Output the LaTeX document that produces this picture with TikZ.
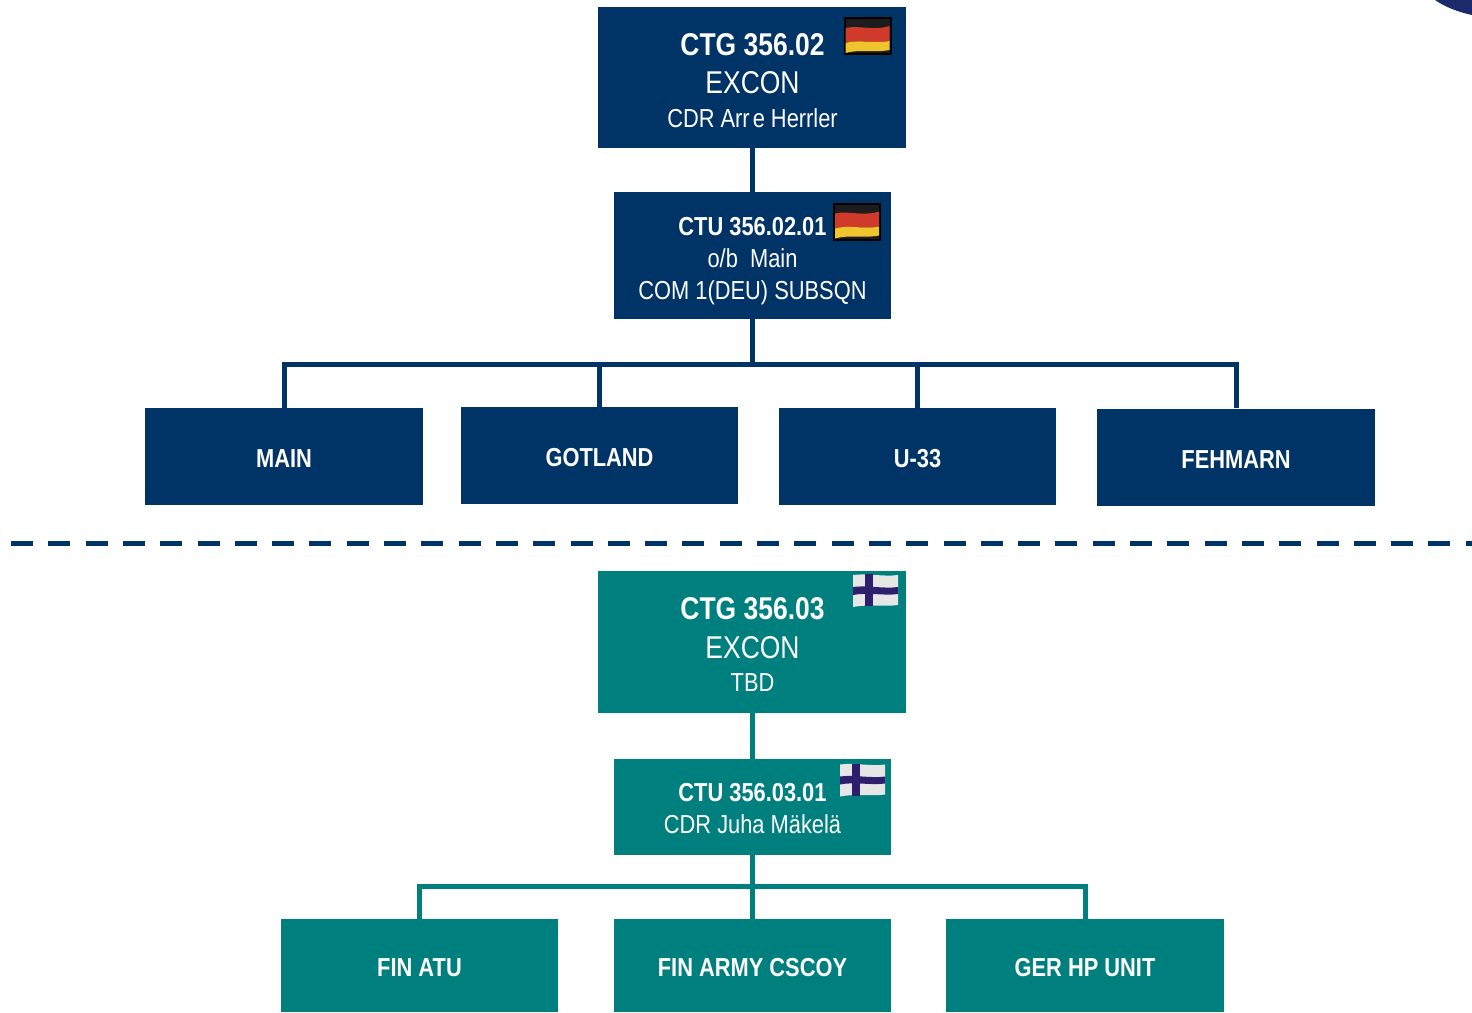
\documentclass[tikz,border=0pt]{standalone}
\usepackage{fontspec}
\setmainfont[FakeStretch=0.84]{Liberation Sans}
\usetikzlibrary{positioning,calc}
\definecolor{navybox}{HTML}{003366}
\definecolor{tealbox}{HTML}{007F7F}
\definecolor{cornerblue}{HTML}{1B2A6B}
\definecolor{flagdark}{HTML}{1C1C1C}
\definecolor{flagred}{HTML}{D03A2A}
\definecolor{flaggold}{HTML}{F0C42C}
\definecolor{flagcross}{HTML}{2E1F6E}
\definecolor{flagwhite}{HTML}{E6E6E6}
\newcommand{\sizeA}{\fontsize{31.5}{32}\selectfont}
\newcommand{\sizeB}{\fontsize{31.5}{32}\selectfont\bfseries}
\newcommand{\sizeC}{\fontsize{26}{26}\selectfont}
\newcommand{\sizeD}{\fontsize{26}{26}\selectfont\bfseries}
\tikzset{%
  every unit/.style={
    draw=none,
    text=white,
    align=center,
    inner sep=0pt,
    minimum width=277.5pt
  },
  unit line/.style={
    text=white,
    inner sep=0pt,
    anchor=base
  },
  unit leaf/.style={
    font=\sizeD,
    text height=22pt,
    text depth=0pt
  },
  unit navy/.style={fill=navybox},
  unit teal/.style={fill=tealbox},
  link navy/.style={draw=navybox,line width=5pt},
  link teal/.style={draw=tealbox,line width=5pt},
  deflag/.pic={
    \fill[black] (0,0) rectangle (48,38);
    \fill[flagdark] (2,2) rectangle (46,36);
    \fill[flagred] (2,11) .. controls (15,8) and (30,14) .. (46,9) -- (46,24) .. controls (30,27) and (15,22) .. (2,26) -- cycle;
    \fill[flaggold] (2,26) .. controls (15,22) and (30,27) .. (46,24) -- (46,33) .. controls (30,36) and (15,32) .. (2,36) -- cycle;
  },
  fiflag/.pic={
    \fill[flagwhite] (0,1) .. controls (15,-1) and (30,3) .. (45,1) -- (45,31) .. controls (30,33) and (15,30) .. (0,33) -- cycle;
    \fill[flagcross] (12,0) rectangle (20,32);
    \fill[flagcross] (0,13) .. controls (15,11) and (30,15) .. (45,13) -- (45,20) .. controls (30,22) and (15,18) .. (0,21) -- cycle;
  }
}
\begin{document}
\begin{tikzpicture}[x=1pt, y=-1pt]
        \useasboundingbox (0,0) rectangle (1472,1012);
        \fill[cornerblue] (1435,0) .. controls (1445,7) and (1458,12) .. (1472,15) -- (1472,0) -- cycle;

        % upper group
        \node [every unit, unit navy, minimum width=308pt, minimum height=141pt] (ctg2) at (752,77.5) {};
        \node [every unit, unit navy, minimum height=127pt] (ctu2) at (752.5,255.5) {};
        \foreach \n/\f/\y/\t in {ctg2-a/\sizeB/55/{CTG 356.02},ctg2-b/\sizeA/93.5/{EXCON},ctg2-c/\sizeC/127/{CDR Arr\kern3pt e Herrler},
                                 ctu2-a/\sizeD/235/{CTU 356.02.01},ctu2-b/\sizeC/267/{o/b\ \ Main},ctu2-c/\sizeC/299/{COM 1(DEU) SUBSQN}}
            \node [unit line, font=\f] (\n) at (752.5,\y) {\t};
        \foreach \m/\l/\x/\y in {main/MAIN/284/456.5,gotland/GOTLAND/599.5/455.5,uboat/U-33/917.5/456.5,fehmarn/FEHMARN/1236/457}
            \node [every unit, unit navy, unit leaf, minimum height=97pt] (\m) at (\x,\y) {\l};

        \coordinate (busnavy) at (752.5,364);
        \draw [link navy] (ctg2.south -| ctu2) -- (ctu2);
        \draw [link navy] (ctu2) -- (busnavy);
        \foreach \m in {main,gotland,uboat,fehmarn}
            \draw [link navy] (busnavy) -| (\m);

        \draw [link navy, dash pattern=on 22pt off 15.3pt] (11,543.5) -- (1472,543.5);

        % lower group
        \node [every unit, unit teal, minimum width=308pt, minimum height=142pt] (ctg3) at (752,642) {};
        \node [every unit, unit teal, minimum height=96pt] (ctu3) at (752.5,807) {};
        \foreach \n/\f/\y/\t in {ctg3-a/\sizeB/619.5/{CTG 356.03},ctg3-b/\sizeA/658/{EXCON},ctg3-c/\sizeC/691/{TBD},
                                 ctu3-a/\sizeD/801.5/{CTU 356.03.01},ctu3-b/\sizeC/833.5/{CDR Juha Mäkelä}}
            \node [unit line, font=\f] (\n) at (752.5,\y) {\t};
        \foreach \m/\l/\x in {finatu/FIN ATU/419.5,cscoy/FIN ARMY CSCOY/752.5,hpunit/GER HP UNIT/1085}
            \node [every unit, unit teal, unit leaf, minimum height=93pt] (\m) at (\x,965.5) {\l};

        \coordinate (busteal) at (752.5,886);
        \draw [link teal] (ctg3.south -| ctu3) -- (ctu3);
        \draw [link teal] (ctu3) -- (busteal);
        \foreach \m in {finatu,cscoy,hpunit}
            \draw [link teal] (busteal) -| (\m);

        % flags
        \pic at (843.5,17) {deflag};
        \pic at (833,202.5) {deflag};
        \pic at (853,574) {fiflag};
        \pic at (840,763.5) {fiflag};
\end{tikzpicture}
\end{document}
